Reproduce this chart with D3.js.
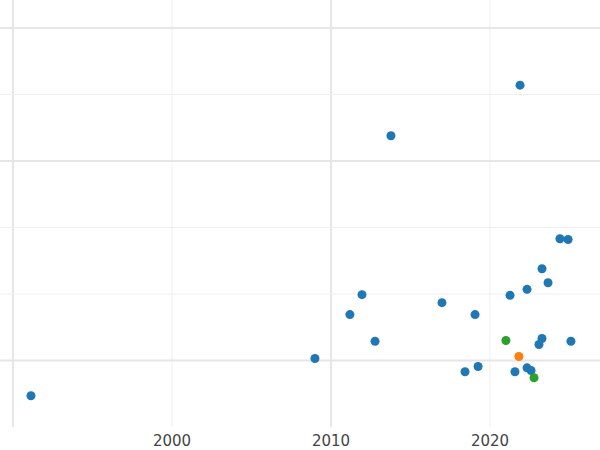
<!DOCTYPE html>
<html>
<head>
<meta charset="utf-8">
<script src="https://cdn.jsdelivr.net/npm/d3@7"></script>
<style>
  body { margin: 0; background: #fff; }
  text { font-family: "DejaVu Sans", sans-serif; }
</style>
</head>
<body>
<svg id="chart" width="600" height="450"></svg>
<script>
'use strict';

var years = [1991.13, 2008.99, 2011.19, 2011.95, 2012.77, 2013.77, 2016.98, 2018.43, 2019.06,
  2019.25, 2021.26, 2021.57, 2021.89, 2022.33, 2022.33, 2022.58, 2023.08, 2023.27, 2023.27,
  2023.65, 2024.40, 2024.91, 2025.09, 2021.82, 2021.0, 2022.77];
var values = [-0.53, 0.03, 0.69, 0.99, 0.29, 3.38, 0.87, -0.17, 0.69, -0.09, 0.98, -0.17, 4.14,
  1.07, -0.11, -0.15, 0.24, 1.38, 0.33, 1.17, 1.83, 1.82, 0.29, 0.06, 0.30, -0.26];
var groups = ['a', 'a', 'a', 'a', 'a', 'a', 'a', 'a', 'a', 'a', 'a', 'a', 'a', 'a', 'a', 'a', 'a',
  'a', 'a', 'a', 'a', 'a', 'a', 'b', 'c', 'c'];
var xTicks = [1990, 2000, 2010, 2020];
var xLabels = ['', '2000', '2010', '2020'];
var yTicks = [-1, 0, 1, 2, 3, 4, 5];
var yMajor = [0, 3, 5];

var colour = d3.scaleOrdinal().domain(['a', 'b', 'c']).range(['#1f77b4', '#ff7f0e', '#2ca02c']);
var x = d3.scaleLinear().domain([1990, 2020]).range([13, 490]);
var y = d3.scaleLinear().domain([-1, 5]).range([427, 28]);

var svg = d3.select('#chart');
var grid = svg.append('g');

grid.selectAll('line.v').data(xTicks).enter().append('line')
  .attr('x1', function (d) { return x(d); }).attr('x2', function (d) { return x(d); })
  .attr('y1', 0).attr('y2', 427)
  .attr('stroke', function (d) { return d === 1990 || d === 2010 ? '#e6e6e6' : '#efefef'; })
  .attr('stroke-width', function (d) { return d === 1990 || d === 2010 ? 2 : 1; });

grid.selectAll('line.h').data(yTicks.filter(function (d) { return d > -1; })).enter().append('line')
  .attr('x1', 0).attr('x2', 600)
  .attr('y1', function (d) { return y(d); }).attr('y2', function (d) { return y(d); })
  .attr('stroke', function (d) { return yMajor.indexOf(d) >= 0 ? '#e6e6e6' : '#efefef'; })
  .attr('stroke-width', function (d) { return yMajor.indexOf(d) >= 0 ? 2 : 1; });

svg.selectAll('text.tick').data(xTicks).enter().append('text')
  .attr('x', function (d) { return x(d); }).attr('y', 446)
  .attr('text-anchor', 'middle').attr('font-size', 15).attr('fill', '#444')
  .text(function (d, i) { return xLabels[i]; });

svg.selectAll('circle').data(years).enter().append('circle')
  .attr('cx', function (d) { return x(d); })
  .attr('cy', function (d, i) { return y(values[i]); })
  .attr('r', 4.5)
  .attr('fill', function (d, i) { return colour(groups[i]); });
</script>
</body>
</html>
